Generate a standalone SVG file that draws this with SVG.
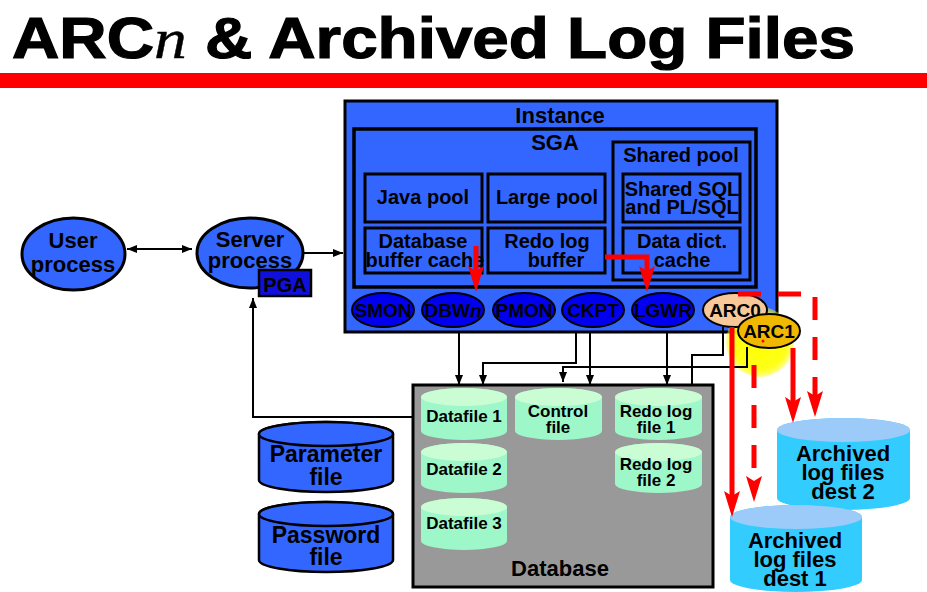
<svg xmlns="http://www.w3.org/2000/svg" width="927" height="592" viewBox="0 0 927 592">
<style>
.t{font-family:"Liberation Sans",Arial,Helvetica,sans-serif;font-weight:bold;fill:#000;text-anchor:middle}
.box{fill:#3366FF;stroke:#000;stroke-width:3}
.proc{fill:#0000EE;stroke:#000;stroke-width:2}
.blk{fill:none;stroke:#000;stroke-width:2}
.red{fill:none;stroke:#FF0000;stroke-width:5}
.dash{stroke-dasharray:23 17}
.gbody{fill:#9EF7C9}
.gtop{fill:#CBFDD5}
.abody{fill:#33CCFF}
.atop{fill:#9CCBFA}
.bcyl{fill:#3366FF;stroke:#000;stroke-width:2.5}
.f17{font-size:17px}
.f19{font-size:19px}
.f20{font-size:20px}
.f22{font-size:22px}
.f23{font-size:23px}
</style>
<defs>
<marker id="ah" viewBox="0 0 10 8" refX="10" refY="4" markerWidth="10" markerHeight="8" markerUnits="userSpaceOnUse" orient="auto-start-reverse"><path d="M0,0 L10,4 L0,8 z" fill="#000"/></marker>
<marker id="rh" viewBox="0 0 26 16" refX="5" refY="8" markerWidth="26" markerHeight="16" markerUnits="userSpaceOnUse" orient="auto"><path d="M0,0 L26,8 L0,16 L5,8 z" fill="#FF0000"/></marker>
<radialGradient id="glow" cx="0.5" cy="0.5" r="0.5">
<stop offset="0" stop-color="#FFFF00" stop-opacity="1"/>
<stop offset="0.8" stop-color="#FFFF00" stop-opacity="0.9"/>
<stop offset="1" stop-color="#FFFF00" stop-opacity="0.4"/>
</radialGradient>
</defs>
<rect x="0" y="0" width="927" height="592" fill="#FFFFFF"/>

<g id="title">
<text x="12" y="58" font-family="Liberation Sans, Arial, sans-serif" font-weight="bold" font-size="57" stroke="#000" stroke-width="1.2" textLength="843" lengthAdjust="spacingAndGlyphs">ARC<tspan font-family="Liberation Serif, Times New Roman, serif" font-style="italic" font-weight="normal" stroke-width="0.4">n</tspan> &amp; Archived Log Files</text>
<rect x="0" y="73" width="927" height="15" fill="#FF0000"/>
</g>

<g id="user-process">
<ellipse cx="73.5" cy="254" rx="51.5" ry="36" class="box" stroke-width="2"/>
<text class="t f22" x="73" y="248">User</text>
<text class="t f22" x="73" y="272">process</text>
</g>

<g id="server-process">
<ellipse cx="250" cy="253" rx="53" ry="35" class="box" stroke-width="2"/>
<text class="t f22" x="250" y="247">Server</text>
<text class="t f22" x="250" y="268">process</text>
</g>

<g id="pga">
<rect x="259" y="270" width="52" height="26" fill="#1010DD" stroke="#000" stroke-width="2.5"/>
<text class="t f20" x="285" y="292">PGA</text>
</g>

<g id="instance">
<rect x="345" y="101" width="432" height="231" class="box"/>
<text class="t f22" x="560" y="123">Instance</text>
</g>

<g id="sga">
<rect x="354" y="129" width="402" height="158" fill="none" stroke="#000" stroke-width="3.5"/>
<text class="t f22" x="555" y="150">SGA</text>
</g>

<g id="java-pool">
<rect x="365" y="174" width="117" height="48" class="box"/>
<text class="t f20" x="423" y="204">Java pool</text>
</g>

<g id="large-pool">
<rect x="488" y="174" width="117" height="48" class="box"/>
<text class="t f20" x="547" y="204">Large pool</text>
</g>

<g id="db-buffer-cache">
<rect x="365" y="228" width="117" height="45" class="box"/>
<text class="t f20" x="423" y="248">Database</text>
<text class="t f20" x="425" y="267">buffer cache</text>
</g>

<g id="redo-log-buffer">
<rect x="488" y="228" width="117" height="45" class="box"/>
<text class="t f20" x="547" y="248">Redo log</text>
<text class="t f20" x="556" y="267">buffer</text>
</g>

<g id="shared-pool">
<rect x="613" y="142" width="137" height="138" fill="none" stroke="#000" stroke-width="3"/>
<text class="t f20" x="681" y="162">Shared pool</text>
</g>

<g id="shared-sql">
<rect x="623" y="174" width="117" height="48" class="box"/>
<text class="t f20" x="682" y="196">Shared SQL</text>
<text class="t f20" x="682" y="214">and PL/SQL</text>
</g>

<g id="data-dict-cache">
<rect x="623" y="228" width="117" height="45" class="box"/>
<text class="t f20" x="682" y="248">Data dict.</text>
<text class="t f20" x="682" y="267">cache</text>
</g>

<g id="smon">
<ellipse cx="383" cy="310" rx="31" ry="17" class="proc"/>
<text class="t f19" x="383" y="317">SMON</text>
</g>
<g id="dbwn">
<ellipse cx="453" cy="310" rx="31" ry="17" class="proc"/>
<text class="t f19" x="453" y="317">DBW<tspan font-style="italic">n</tspan></text>
</g>
<g id="pmon">
<ellipse cx="524" cy="310" rx="31" ry="17" class="proc"/>
<text class="t f19" x="524" y="317">PMON</text>
</g>
<g id="ckpt">
<ellipse cx="593" cy="310" rx="31" ry="17" class="proc"/>
<text class="t f19" x="593" y="317">CKPT</text>
</g>
<g id="lgwr">
<ellipse cx="663" cy="310" rx="31" ry="17" class="proc"/>
<text class="t f19" x="663" y="317">LGWR</text>
</g>

<g id="arc1-highlight">
<ellipse cx="760" cy="342" rx="34" ry="35" fill="url(#glow)"/>
</g>
<g id="arc0">
<ellipse cx="735" cy="310" rx="32" ry="17" fill="#F8C898" stroke="#000" stroke-width="2"/>
<text class="t f19" x="735" y="317">ARC0</text>
</g>
<g id="arc1">
<ellipse cx="769" cy="331" rx="31" ry="17" fill="#F0B800" stroke="#000" stroke-width="2"/>
<text class="t f19" x="769" y="338">ARC1</text>
<circle cx="763" cy="341" r="1.5" fill="#FF0000"/>
</g>

<g id="database">
<rect x="413" y="385" width="300" height="202" fill="#999999" stroke="#000" stroke-width="3"/>
<text class="t f22" x="560" y="576">Database</text>
</g>

<g id="datafile-1">
<path class="gbody" d="M421,397 V431 A43,9 0 0 0 507,431 V397 A43,9 0 0 0 421,397 Z"/>
<ellipse class="gtop" cx="464" cy="397" rx="43" ry="9"/>
<text class="t f17" x="464" y="422">Datafile 1</text>
</g>
<g id="datafile-2">
<path class="gbody" d="M421,452 V484 A43,9 0 0 0 507,484 V452 A43,9 0 0 0 421,452 Z"/>
<ellipse class="gtop" cx="464" cy="452" rx="43" ry="9"/>
<text class="t f17" x="464" y="475">Datafile 2</text>
</g>
<g id="datafile-3">
<path class="gbody" d="M421,507 V541 A43,9 0 0 0 507,541 V507 A43,9 0 0 0 421,507 Z"/>
<ellipse class="gtop" cx="464" cy="507" rx="43" ry="9"/>
<text class="t f17" x="464" y="529">Datafile 3</text>
</g>
<g id="control-file">
<path class="gbody" d="M515,397 V431 A43.5,9 0 0 0 602,431 V397 A43.5,9 0 0 0 515,397 Z"/>
<ellipse class="gtop" cx="558.5" cy="397" rx="43.5" ry="9"/>
<text class="t f17" x="558" y="417">Control</text>
<text class="t f17" x="558" y="433">file</text>
</g>
<g id="redo-log-file-1">
<path class="gbody" d="M615,397 V431 A43.5,9 0 0 0 702,431 V397 A43.5,9 0 0 0 615,397 Z"/>
<ellipse class="gtop" cx="658.5" cy="397" rx="43.5" ry="9"/>
<text class="t f17" x="656" y="417">Redo log</text>
<text class="t f17" x="656" y="433">file 1</text>
</g>
<g id="redo-log-file-2">
<path class="gbody" d="M615,452 V484 A43.5,9 0 0 0 702,484 V452 A43.5,9 0 0 0 615,452 Z"/>
<ellipse class="gtop" cx="658.5" cy="452" rx="43.5" ry="9"/>
<text class="t f17" x="656" y="470">Redo log</text>
<text class="t f17" x="656" y="486">file 2</text>
</g>

<g id="parameter-file">
<path class="bcyl" d="M259,434 V480 A67,12 0 0 0 393,480 V434 A67,12 0 0 0 259,434 Z"/>
<ellipse class="bcyl" cx="326" cy="434" rx="67" ry="12"/>
<text class="t f23" x="326" y="462">Parameter</text>
<text class="t f23" x="326" y="485">file</text>
</g>
<g id="password-file">
<path class="bcyl" d="M259,514 V560 A67,12 0 0 0 393,560 V514 A67,12 0 0 0 259,514 Z"/>
<ellipse class="bcyl" cx="326" cy="514" rx="67" ry="12"/>
<text class="t f23" x="326" y="543">Password</text>
<text class="t f23" x="326" y="565">file</text>
</g>

<g id="archived-dest-2">
<path class="abody" d="M777,430 V498 A66.5,12 0 0 0 910,498 V430 A66.5,12 0 0 0 777,430 Z"/>
<ellipse class="atop" cx="843.5" cy="430" rx="66.5" ry="12"/>
<text class="t f22" x="843" y="461">Archived</text>
<text class="t f22" x="843" y="480">log files</text>
<text class="t f22" x="843" y="499">dest 2</text>
</g>
<g id="archived-dest-1">
<path class="abody" d="M730,517 V580 A66,12 0 0 0 862,580 V517 A66,12 0 0 0 730,517 Z"/>
<ellipse class="atop" cx="796" cy="517" rx="66" ry="12"/>
<text class="t f22" x="795" y="548">Archived</text>
<text class="t f22" x="795" y="567">log files</text>
<text class="t f22" x="795" y="586">dest 1</text>
</g>

<g id="connectors">
<path class="blk" d="M127,249 H192" marker-start="url(#ah)" marker-end="url(#ah)"/>
<path class="blk" d="M303,253 H343" marker-end="url(#ah)"/>
<path class="blk" d="M413,417 H253 V298" marker-end="url(#ah)"/>
<path class="blk" d="M459,332 V385" marker-end="url(#ah)"/>
<path class="blk" d="M576,332 V363 H483 V385" marker-end="url(#ah)"/>
<path class="blk" d="M590,332 V385" marker-end="url(#ah)"/>
<path class="blk" d="M667,332 V385" marker-end="url(#ah)"/>
<path class="blk" d="M723,327 V355 H692 V385"/>
<path class="blk" d="M747,347 V367 H563 V382" marker-end="url(#ah)"/>
<path class="red" d="M476,246 V271" marker-end="url(#rh)"/>
<path class="red" d="M605,257 H647 V271" marker-end="url(#rh)"/>
<path class="red" d="M732,327 V496" marker-end="url(#rh)"/>
<path class="red" d="M793,348 V402" marker-end="url(#rh)"/>
<path class="red dash" d="M754,365 V481" marker-end="url(#rh)"/>
<path class="red dash" d="M738,294 H815 V396" marker-end="url(#rh)"/>
</g>
</svg>
